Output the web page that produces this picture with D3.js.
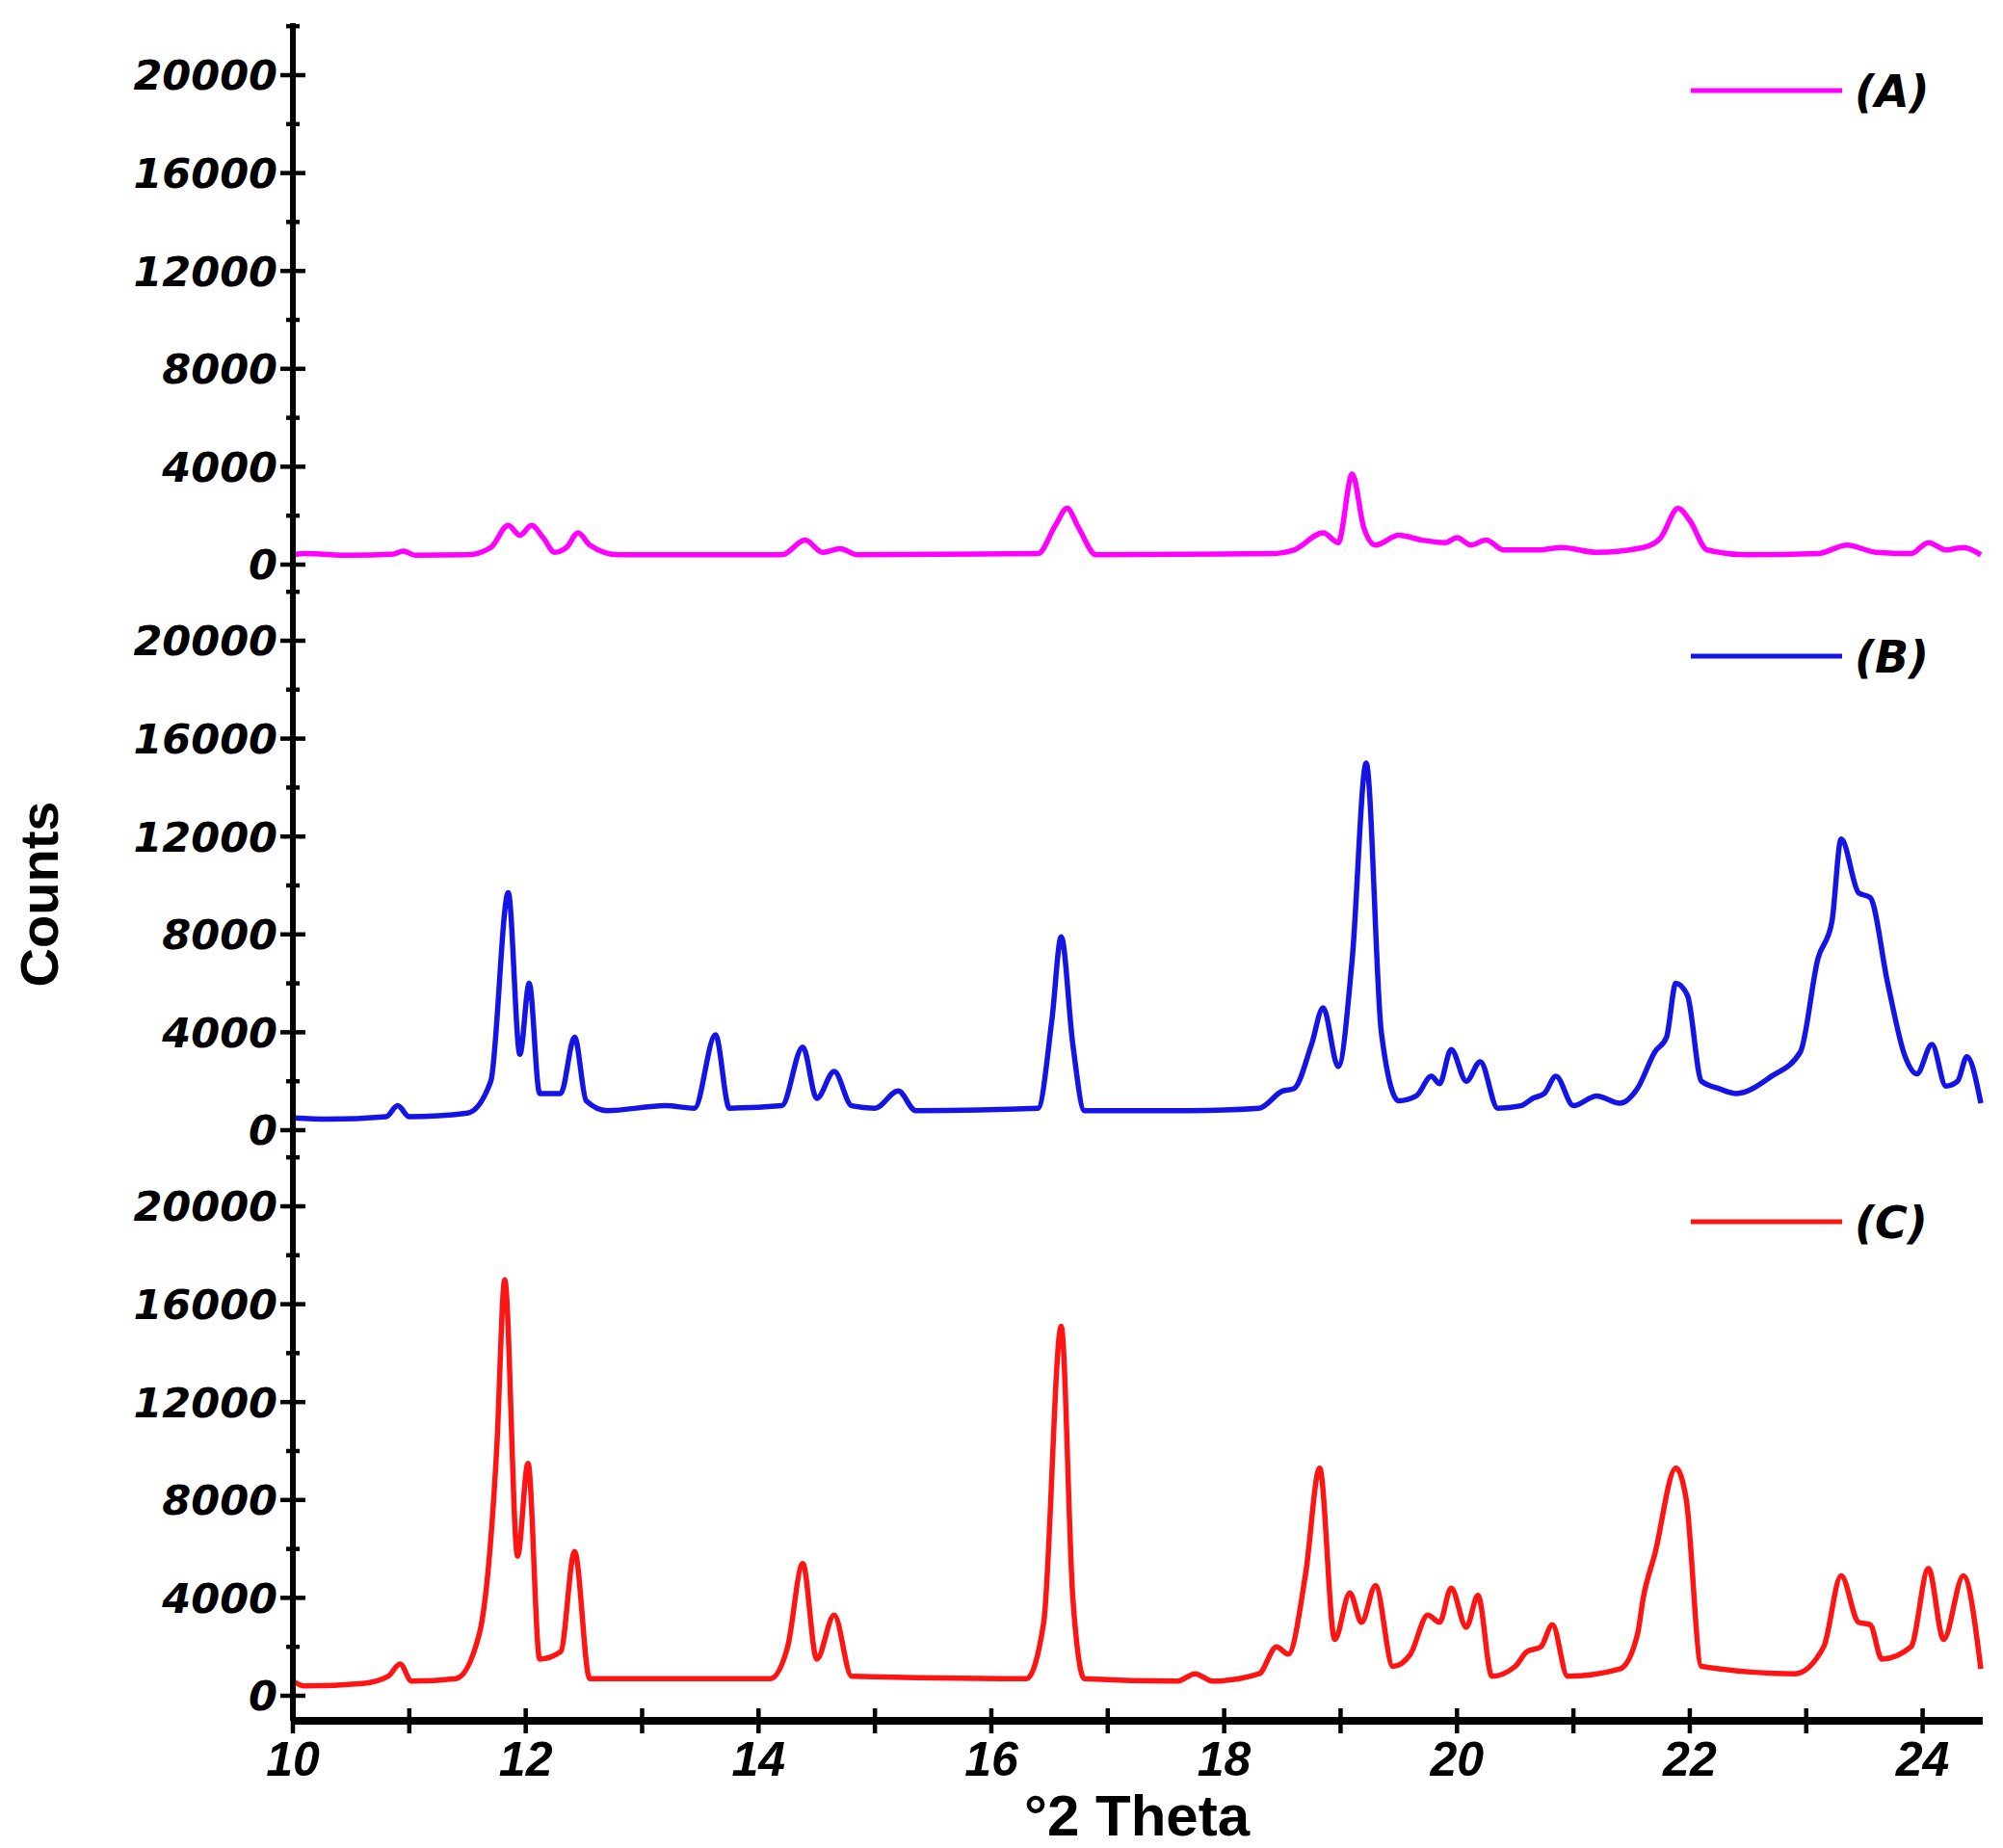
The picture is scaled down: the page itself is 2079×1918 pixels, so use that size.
<!DOCTYPE html>
<html><head><meta charset="utf-8">
<script src="https://cdn.jsdelivr.net/npm/d3@7"></script>
<style>body{margin:0;background:#fff}text{font-family:"Liberation Sans",Arial,sans-serif;font-weight:bold}</style>
</head><body><svg id="c" width="2079" height="1918"></svg>
<script>
// [2theta, counts]
var seriesA = [[10,400],[10.1,450],[10.5,380],[10.85,420],[10.95,550],[11.05,380],[11.5,400],[11.7,700],[11.85,1600],[11.95,1200],[12.05,1600],[12.15,1100],[12.25,500],[12.35,700],[12.45,1300],[12.55,800],[12.8,400],[14.2,400],[14.4,1000],[14.55,500],[14.7,650],[14.85,400],[16.4,450],[16.55,1600],[16.65,2300],[16.75,1500],[16.9,400],[18.4,450],[18.6,600],[18.85,1300],[18.98,900],[19.1,3700],[19.2,1500],[19.3,800],[19.5,1200],[19.7,1000],[19.9,900],[20.0,1100],[20.12,800],[20.25,1000],[20.4,600],[20.7,600],[20.9,700],[21.2,500],[21.6,700],[21.75,1100],[21.9,2300],[22.0,1800],[22.15,600],[22.5,400],[23.1,450],[23.35,800],[23.6,500],[23.9,450],[24.05,900],[24.2,600],[24.35,700],[24.5,400]];
var seriesB = [[10,500],[10.3,450],[10.8,550],[10.9,1000],[11.0,550],[11.5,700],[11.7,2000],[11.85,9700],[11.95,3100],[12.03,6000],[12.12,1500],[12.3,1500],[12.42,3800],[12.52,1200],[12.7,800],[13.2,1000],[13.45,900],[13.63,3900],[13.75,900],[14.2,1000],[14.38,3400],[14.5,1300],[14.65,2400],[14.8,1000],[15.0,900],[15.2,1600],[15.35,800],[16.4,900],[16.52,4500],[16.6,7900],[16.7,3500],[16.8,800],[17.7,800],[18.3,900],[18.5,1600],[18.6,1700],[18.75,3500],[18.85,5000],[18.98,2600],[19.1,7000],[19.22,15000],[19.35,4000],[19.5,1200],[19.65,1400],[19.78,2200],[19.85,1900],[19.95,3300],[20.08,2000],[20.2,2800],[20.35,900],[20.55,1000],[20.65,1300],[20.75,1500],[20.85,2200],[21.0,1000],[21.2,1400],[21.4,1100],[21.55,1700],[21.7,3200],[21.8,3800],[21.88,6000],[21.98,5500],[22.1,2000],[22.25,1700],[22.4,1500],[22.7,2200],[22.95,3200],[23.1,7000],[23.22,8500],[23.3,11900],[23.45,9700],[23.55,9500],[23.7,6000],[23.85,3000],[23.95,2300],[24.08,3500],[24.2,1800],[24.3,2000],[24.38,3000],[24.5,1100]];
var seriesC = [[10,600],[10.1,400],[10.6,500],[10.82,800],[10.92,1300],[11.02,600],[11.4,700],[11.6,2500],[11.75,10000],[11.82,17000],[11.93,5700],[12.02,9500],[12.12,1500],[12.3,1800],[12.42,5900],[12.55,700],[14.1,700],[14.25,2000],[14.38,5400],[14.5,1500],[14.65,3300],[14.8,800],[16.3,700],[16.45,3000],[16.6,15100],[16.7,4000],[16.8,700],[17.6,600],[17.75,900],[17.9,600],[18.3,900],[18.45,2000],[18.55,1700],[18.7,5000],[18.82,9300],[18.95,2300],[19.08,4200],[19.18,3000],[19.3,4500],[19.45,1200],[19.6,1700],[19.75,3300],[19.85,3000],[19.95,4400],[20.08,2800],[20.18,4100],[20.3,800],[20.5,1200],[20.6,1800],[20.72,2000],[20.82,2900],[20.95,800],[21.4,1100],[21.55,2500],[21.6,4000],[21.7,5800],[21.88,9300],[21.97,8000],[22.1,1200],[22.9,900],[23.15,2000],[23.3,4900],[23.45,3000],[23.55,2900],[23.65,1500],[23.9,2000],[24.05,5200],[24.18,2300],[24.35,4900],[24.5,1100]];

var panels = [
  {name: "(A)", color: "#ff00ff", data: seriesA, zeroY: 586},
  {name: "(B)", color: "#1414e6", data: seriesB, zeroY: 1173},
  {name: "(C)", color: "#ff1414", data: seriesC, zeroY: 1760}
];
var majorTicks = [0, 4000, 8000, 12000, 16000, 20000];
var minorTicks = d3.range(0, 22001, 2000);
var xTicks = [10, 12, 14, 16, 18, 20, 22, 24];

var svg = d3.select("#c");
var x = d3.scaleLinear().domain([10, 24.5]).range([304, 2056]);
var axisX = 304, axisBottom = 1786;
var tickFont = "'DejaVu Sans', sans-serif";

panels.forEach(function (p) {
  var y = d3.scaleLinear().domain([0, 20000]).range([p.zeroY, p.zeroY - 508]);
  var g = svg.append("g");
  minorTicks.forEach(function (t) {
    var major = majorTicks.indexOf(t) >= 0;
    g.append("line").attr("x1", axisX - (major ? 13 : 7)).attr("x2", axisX + (major ? 13 : 7))
      .attr("y1", y(t)).attr("y2", y(t)).attr("stroke", "#000").attr("stroke-width", 4.5);
  });
  majorTicks.forEach(function (t) {
    g.append("text").attr("x", axisX - 16).attr("y", y(t)).attr("dy", "0.36em")
      .attr("text-anchor", "end").attr("font-size", 43).attr("font-style", "italic")
      .style("font-family", tickFont).text(t);
  });
  var line = d3.line().x(function (d) { return x(d[0]); }).y(function (d) { return y(d[1]); })
    .curve(d3.curveMonotoneX);
  g.append("path").datum(p.data).attr("d", line).attr("fill", "none")
    .attr("stroke", p.color).attr("stroke-width", 5.5).attr("stroke-linejoin", "round");
  var ly = y(20000) + 16;
  g.append("line").attr("x1", 1755).attr("x2", 1912).attr("y1", ly).attr("y2", ly)
    .attr("stroke", p.color).attr("stroke-width", 5);
  g.append("text").attr("x", 1925).attr("y", ly).attr("dy", "0.36em").attr("font-size", 46)
    .attr("font-style", "italic").style("font-family", tickFont).text(p.name);
});

// axes
svg.append("line").attr("x1", axisX).attr("x2", axisX).attr("y1", 24).attr("y2", axisBottom)
  .attr("stroke", "#000").attr("stroke-width", 6);
svg.append("line").attr("x1", axisX).attr("x2", 2058).attr("y1", axisBottom).attr("y2", axisBottom)
  .attr("stroke", "#000").attr("stroke-width", 8);
d3.range(10, 25, 1).forEach(function (t) {
  svg.append("line").attr("x1", x(t)).attr("x2", x(t)).attr("y1", axisBottom - 13).attr("y2", axisBottom + 13)
    .attr("stroke", "#000").attr("stroke-width", 4.5);
});
xTicks.forEach(function (t) {
  svg.append("text").attr("x", x(t)).attr("y", 1843).attr("text-anchor", "middle")
    .attr("font-size", 50).attr("font-style", "italic").text(t);
});
svg.append("text").attr("x", 1180).attr("y", 1905).attr("text-anchor", "middle")
  .attr("font-size", 60).text("°2 Theta");
svg.append("text").attr("transform", "translate(60,928) rotate(-90)").attr("text-anchor", "middle")
  .attr("font-size", 56).text("Counts");
</script></body></html>
